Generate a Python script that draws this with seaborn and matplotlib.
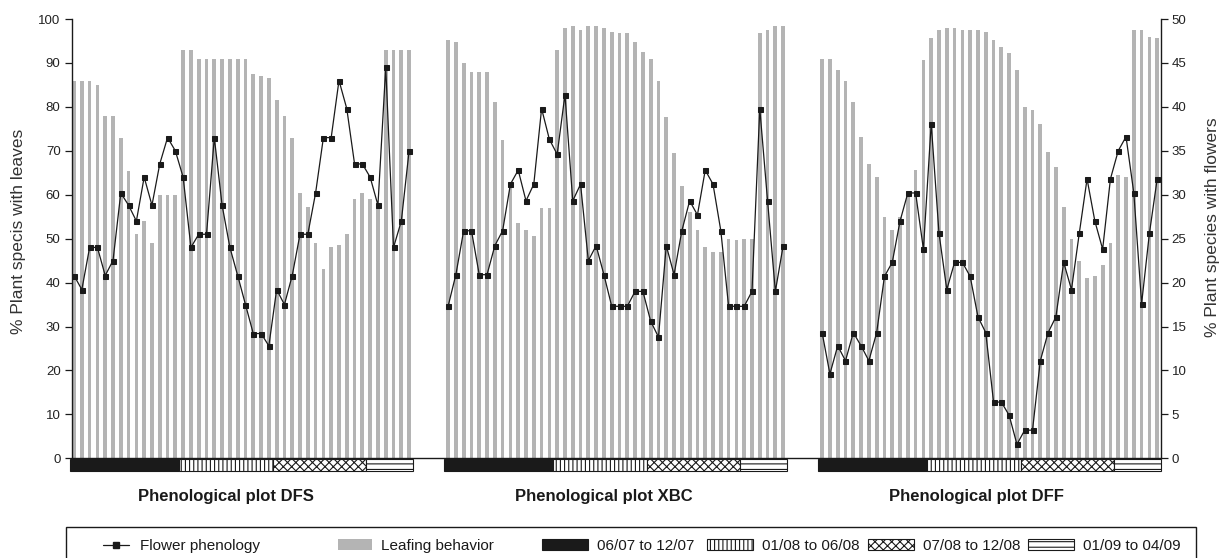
import numpy as np
import pandas as pd
import matplotlib
matplotlib.use("Agg")
import matplotlib.pyplot as plt
import seaborn as sns
from matplotlib import font_manager
from matplotlib.lines import Line2D
from matplotlib.patches import Patch, Rectangle

# ---- data -------------------------------------------------------------
plots = ["DFS", "XBC", "DFF"]
plot_titles = ["Phenological plot DFS", "Phenological plot XBC", "Phenological plot DFF"]

# % of plant species with leaves (left axis), one value per census
leaves_dfs = [86, 86, 86, 85, 78, 78, 73, 65.5, 51, 54, 49, 60, 60, 60, 93, 93,
              91, 91, 91, 91, 91, 91, 91, 87.5, 87, 86.5, 81.5, 78, 73, 60.5, 57.3,
              49, 43, 48, 48.5, 51, 59, 60.3, 59, 57, 93, 93, 93, 93]
leaves_xbc = [95.2, 94.8, 90, 88, 88, 88, 81, 72.5, 62, 53.5, 52, 50.5, 57, 57, 93,
              98, 98.3, 97.5, 98.3, 98.3, 98, 97, 96.7, 96.7, 94.8, 92.6, 91, 86,
              77.8, 69.6, 62, 56, 52, 48, 47, 47, 50, 49.7, 50, 50, 96.7, 97.5,
              98.3, 98.3]
leaves_dff = [91, 91, 88.4, 86, 81.2, 73.2, 67, 64, 55, 52, 55, 60, 65.6, 90.6, 95.6,
              97.5, 97.9, 97.9, 97.5, 97.5, 97.5, 97, 95.2, 93.7, 92.2, 88.4, 80, 79.2,
              76.2, 69.7, 66.3, 57.2, 50, 45, 41, 41.4, 44, 49, 64.4, 64, 97.5, 97.5,
              96, 95.6]

# % of plant species with flowers (right axis)
flowers_dfs = [20.8, 19.2, 24, 24, 20.8, 22.5, 30.2, 28.8, 27, 32, 28.8, 33.5, 36.5,
               35, 32, 24, 25.5, 25.5, 36.5, 28.8, 24, 20.8, 17.5, 14.2, 14.2, 12.8,
               19.2, 17.5, 20.8, 25.5, 25.5, 30.2, 36.5, 36.5, 43, 39.8, 33.5, 33.5,
               32, 28.8, 44.5, 24, 27, 35]
flowers_xbc = [17.3, 20.9, 25.9, 25.9, 20.9, 20.9, 24.2, 25.9, 31.2, 32.8, 29.3, 31.2,
               39.8, 36.3, 34.6, 41.4, 29.3, 31.2, 22.5, 24.2, 20.9, 17.3, 17.3, 17.3,
               19, 19, 15.6, 13.8, 24.2, 20.9, 25.9, 29.3, 27.7, 32.8, 31.2, 25.9,
               17.3, 17.3, 17.3, 19, 39.8, 29.3, 19, 24.2]
flowers_dff = [14.3, 9.6, 12.8, 11.1, 14.3, 12.8, 11.1, 14.3, 20.7, 22.3, 27.0, 30.2,
               30.2, 23.8, 38.1, 25.6, 19.2, 22.3, 22.3, 20.7, 16.1, 14.3, 6.4, 6.4,
               4.9, 1.6, 3.2, 3.2, 11.1, 14.3, 16.1, 22.3, 19.2, 25.6, 31.8, 27.0,
               23.8, 31.8, 35.0, 36.6, 30.2, 17.6, 25.6, 31.8]

# census periods (index of first and last census in each period)
period_labels = ["06/07 to 12/07", "01/08 to 06/08", "07/08 to 12/08", "01/09 to 04/09"]
period_first = [0, 14, 26, 38]
period_last = [13, 25, 37, 43]

left_ticks = list(range(0, 101, 10))
right_ticks = list(range(0, 51, 5))

# ---- layout -------------------------------------------------------------
GAP = 4  # empty census slots between plots
leaves = [leaves_dfs, leaves_xbc, leaves_dff]
flowers = [flowers_dfs, flowers_xbc, flowers_dff]
n = len(leaves_dfs)
offsets = [k * (n + GAP) for k in range(len(plots))]

frames = []
for name, off, lv, fl in zip(plots, offsets, leaves, flowers):
    frames.append(pd.DataFrame({"plot": name,
                                "pos": np.arange(len(lv)) + off,
                                "leaves": lv,
                                "flowers": fl}))
df = pd.concat(frames, ignore_index=True)

# ---- style --------------------------------------------------------------
sns.set_style("white")
available = {f.name for f in font_manager.fontManager.ttflist}
base_font = "Liberation Sans" if "Liberation Sans" in available else "DejaVu Sans"
plt.rcParams["font.family"] = [base_font, "DejaVu Sans"]
plt.rcParams["hatch.linewidth"] = 0.8
plt.rcParams["hatch.color"] = "black"

BAR_GREY = "#b4b4b4"
INK = "#1a1a1a"

fig = plt.figure(figsize=(12.24, 5.58), dpi=100)
W, H = 1224, 558
ax = fig.add_axes([71.7 / W, 1 - 458.3 / H, (1160.7 - 71.7) / W, (458.3 - 19) / H])

sns.barplot(data=df, x="pos", y="leaves", native_scale=True, width=0.48,
            color=BAR_GREY, saturation=1, errorbar=None, linewidth=0, ax=ax)

ax2 = ax.twinx()
sns.lineplot(data=df, x="pos", y="flowers", units="plot", estimator=None,
             color=INK, linewidth=0.9, marker="s", markersize=3.6,
             markeredgecolor=INK, markerfacecolor=INK, ax=ax2, legend=False)

xmax = offsets[-1] + n - 1
ax.set_xlim(-0.3, xmax + 0.45)
ax.set_ylim(0, 100)
ax2.set_ylim(0, 50)

# period strip under each plot
period_styles = [dict(facecolor=INK, hatch=None),
                 dict(facecolor="white", hatch="||||"),
                 dict(facecolor="white", hatch="xxxx"),
                 dict(facecolor="white", hatch="---")]
for off in offsets:
    for first, last, sty in zip(period_first, period_last, period_styles):
        ax.bar(off + first - 0.5, height=2.6, width=last - first + 1, bottom=-2.85,
               align="edge", edgecolor=INK, linewidth=0.8, clip_on=False, **sty)

# axes cosmetics
for a in (ax, ax2):
    a.set_xlabel("")
    a.set_ylabel("")
    a.set_xticks([])
for s in ("top", "right"):
    ax.spines[s].set_visible(False)
for s in ("top", "left", "bottom"):
    ax2.spines[s].set_visible(False)
for sp in (ax.spines["left"], ax.spines["bottom"], ax2.spines["right"]):
    sp.set_color(INK)
    sp.set_linewidth(1.0)

ax.set_yticks(left_ticks)
ax.set_yticklabels([str(t) for t in left_ticks])
ax2.set_yticks(right_ticks)
ax2.set_yticklabels([str(t) for t in right_ticks])
ax.tick_params(axis="y", left=True, direction="out", length=5, width=0.9,
               color=INK, labelsize=9.5, labelcolor="#222222", pad=3)
ax2.tick_params(axis="y", right=True, direction="out", length=5, width=0.9,
                color=INK, labelsize=9.5, labelcolor="#222222", pad=3)

# axis titles
fig.text(18.5 / W, 1 - 231 / H, "% Plant specis with leaves", rotation=90,
         ha="center", va="center", fontsize=12.5, color="#333333")
fig.text(1212 / W, 1 - 227 / H, "% Plant species with flowers", rotation=90,
         ha="center", va="center", fontsize=12.5, color="#333333")

# plot names
for title, xc in zip(plot_titles, [226, 604, 976]):
    fig.text(xc / W, 1 - 497 / H, title, ha="center", va="center",
             fontsize=12, fontweight="bold", color=INK)

# legend frame (open at the bottom edge of the figure)
box_left, box_right, box_top = 66, 1196, 527
fig.add_artist(Rectangle((box_left / W, -12 / H), (box_right - box_left) / W,
                         (H - box_top + 12) / H, transform=fig.transFigure,
                         facecolor="none", edgecolor=INK, linewidth=1.0,
                         clip_on=False))

# legend entries, one per key, placed along the frame
handles = [Line2D([], [], color=INK, linewidth=0.9, marker="s", markersize=4.5),
           Patch(facecolor=BAR_GREY, edgecolor="none")]
for sty in period_styles:
    handles.append(Patch(edgecolor=INK, linewidth=0.8, **sty))
labels = ["Flower phenology", "Leafing behavior"] + period_labels
key_left = [103, 338, 542, 707, 868, 1028]
key_len = [1.7, 2.2, 3.0, 3.0, 3.0, 3.0]
key_pad = [0.75, 0.6, 0.6, 0.6, 0.6, 0.6]
for h, lab, xl, hl, tp in zip(handles, labels, key_left, key_len, key_pad):
    fig.legend([h], [lab], loc="center left", bbox_to_anchor=(xl / W, 1 - 546 / H),
               frameon=False, fontsize=11, handlelength=hl, handleheight=0.7,
               handletextpad=tp, borderpad=0, borderaxespad=0, labelcolor=INK)

fig.savefig("out.png", dpi=100, facecolor="white")
